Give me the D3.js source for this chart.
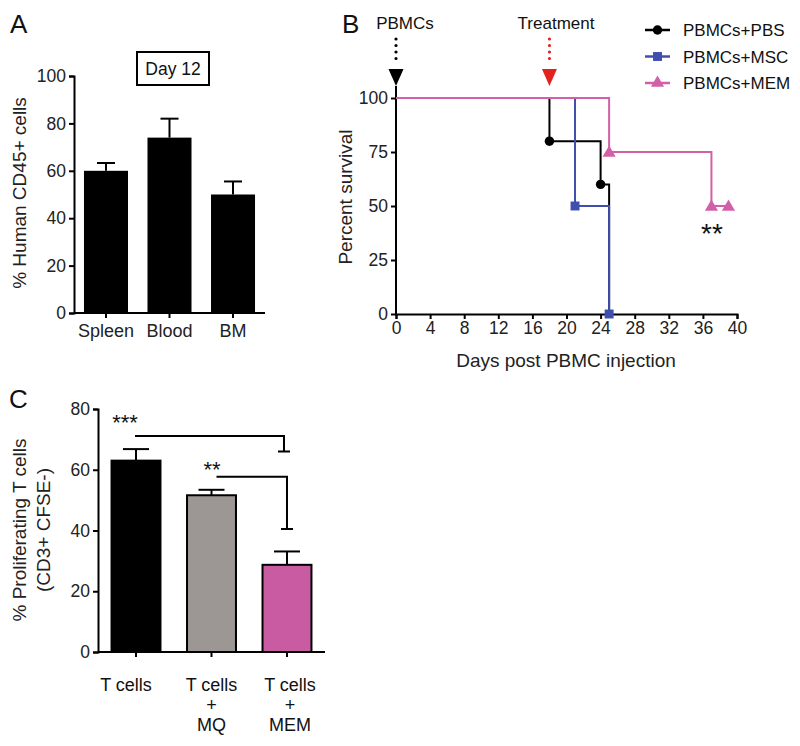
<!DOCTYPE html>
<html><head><meta charset="utf-8">
<script src="https://cdn.jsdelivr.net/npm/d3@7"></script>
<style>body{margin:0;background:#fff}svg{font-family:"Liberation Sans",Arial,sans-serif}</style>
</head><body><svg id="c" width="800" height="746"></svg>
<script>
// Panel A
const catsA = ["Spleen","Blood","BM"];
const valsA = [60,74,50];
const errA = [3.3,8,5.5];
const ticksA = [0,20,40,60,80,100];
// Panel B
const ticksBx = [0,4,8,12,16,20,24,28,32,36,40];
const ticksBy = [0,25,50,75,100];
const seriesB = ["PBMCs+PBS","PBMCs+MSC","PBMCs+MEM"];
const pbsDays = [0,18,24,25], pbsSurv = [100,80,60,0];
const mscDays = [0,21,25], mscSurv = [100,50,0];
const memDays = [0,25,37,39], memSurv = [100,75,50,50];
const pbsMarkDays = [18,24], pbsMarkSurv = [80,60];
const mscMarkDays = [21,25], mscMarkSurv = [50,0];
const memMarkDays = [25,37,39], memMarkSurv = [75,50,50];
const colorsB = ["#000000","#3f4fb0","#d260a8"];
// Panel C
const catsC = [["T cells"],["T cells","+","MQ"],["T cells","+","MEM"]];
const valsC = [63,51.6,28.7];
const errC = [3.8,1.8,4.4];
const colorsC = ["#000000","#9c9794","#c85ba1"];
const ticksC = [0,20,40,60,80];

const svg = d3.select("#c");
const F = 17.5;   // tick labels / legend
const FL = 19;    // axis titles
const FC = 18;    // category labels

// ---------- Panel A ----------
const xA = d3.scaleBand().domain(catsA).range([74,265]).paddingInner(0.307).paddingOuter(0.157);
const yA = d3.scaleLinear().domain([0,100]).range([313,76]);
const gA = svg.append("g");
gA.selectAll("rect.bar").data(valsA).join("rect")
  .attr("x",(d,i)=>xA(catsA[i])).attr("width",xA.bandwidth())
  .attr("y",d=>yA(d)).attr("height",d=>yA(0)-yA(d)).attr("fill","#000");
gA.selectAll("g.err").data(valsA).join("g").each(function(d,i){
  const cx = xA(catsA[i])+xA.bandwidth()/2, g=d3.select(this);
  g.append("line").attr("x1",cx).attr("x2",cx).attr("y1",yA(d)).attr("y2",yA(d+errA[i])).attr("stroke","#000").attr("stroke-width",2);
  g.append("line").attr("x1",cx-9).attr("x2",cx+9).attr("y1",yA(d+errA[i])).attr("y2",yA(d+errA[i])).attr("stroke","#000").attr("stroke-width",2);
});
const axA = gA.append("g").attr("transform","translate(74,0)").call(d3.axisLeft(yA).tickValues(ticksA).tickSize(5).tickPadding(3));
const axAx = gA.append("g").attr("transform","translate(0,313)").call(d3.axisBottom(xA).tickSize(5).tickPadding(6));
[axA,axAx].forEach(a=>{a.select(".domain").attr("stroke-width",2);a.selectAll(".tick line").attr("stroke-width",2);a.selectAll("text").attr("font-size",F).attr("fill","#222").attr("font-family","Liberation Sans, Arial");});
axAx.selectAll("text").attr("font-size",FC);
axAx.select(".domain").attr("d","M74,0H265");
svg.append("text").attr("transform","translate(26,193) rotate(-90)").attr("text-anchor","middle").attr("font-size",FL).attr("fill","#222").text("% Human CD45+ cells");
svg.append("rect").attr("x",137).attr("y",52).attr("width",72).attr("height",33).attr("fill","none").attr("stroke","#000").attr("stroke-width",2);
svg.append("text").attr("x",173).attr("y",75).attr("text-anchor","middle").attr("font-size",F).attr("fill","#111").text("Day 12");
svg.append("text").attr("x",10).attr("y",33).attr("font-size",26).attr("fill","#111").text("A");

// ---------- Panel B ----------
const xB = d3.scaleLinear().domain([0,40]).range([396,737]);
const yB = d3.scaleLinear().domain([0,100]).range([314,98]);
const gB = svg.append("g");
const axBy = gB.append("g").attr("transform","translate(396,0)").call(d3.axisLeft(yB).tickValues(ticksBy).tickSize(5).tickPadding(3));
const axBx = gB.append("g").attr("transform","translate(0,314)").call(d3.axisBottom(xB).tickValues(ticksBx).tickSize(5).tickPadding(3));
[axBy,axBx].forEach(a=>{a.select(".domain").attr("stroke-width",2);a.selectAll(".tick line").attr("stroke-width",2);a.selectAll("text").attr("font-size",F).attr("fill","#222").attr("font-family","Liberation Sans, Arial");});
axBy.select(".domain").attr("d","M0,314V86");
const stepLine = d3.line().x(d=>xB(d[0])).y(d=>yB(d[1])).curve(d3.curveStepAfter);
const curves = [[pbsDays,pbsSurv],[mscDays,mscSurv],[memDays,memSurv]];
curves.forEach((c,k)=>{
  gB.append("path").datum(c[0].map((d,i)=>[d,c[1][i]])).attr("d",stepLine).attr("fill","none").attr("stroke",colorsB[k]).attr("stroke-width",2);
});
const marks = [[pbsMarkDays,pbsMarkSurv],[mscMarkDays,mscMarkSurv],[memMarkDays,memMarkSurv]];
const symTypes = [d3.symbolCircle,d3.symbolSquare,d3.symbolTriangle];
const symSizes = [70,80,75];
marks.forEach((m,k)=>{
  gB.selectAll(null).data(m[0].map((d,i)=>[d,m[1][i]])).join("path")
    .attr("transform",d=>`translate(${xB(d[0])},${yB(d[1])+(k==2?1:0)})`)
    .attr("d",d3.symbol(symTypes[k],symSizes[k])).attr("fill",colorsB[k]);
});
// legend
seriesB.forEach((s,k)=>{
  const y = 30+k*26.5;
  svg.append("line").attr("x1",645).attr("x2",670).attr("y1",y).attr("y2",y).attr("stroke",colorsB[k]).attr("stroke-width",2.5);
  svg.append("path").attr("transform",`translate(657.5,${y})`).attr("d",d3.symbol(symTypes[k],symSizes[k])).attr("fill",colorsB[k]);
  svg.append("text").attr("x",683).attr("y",y+6).attr("font-size",17).attr("fill","#111").text(s);
});
// arrows
function arrow(day,color){
  const x = xB(day);
  svg.append("line").attr("x1",x).attr("x2",x).attr("y1",39).attr("y2",64).attr("stroke",color).attr("stroke-width",3.2).attr("stroke-linecap","round").attr("stroke-dasharray","0,6.5");
  svg.append("path").attr("d",`M${x-7.5},69L${x+7.5},69L${x},86Z`).attr("fill",color);
}
arrow(0,"#000");
arrow(18,"#e3211f");
svg.append("text").attr("x",405).attr("y",29).attr("text-anchor","middle").attr("font-size",17).attr("fill","#111").text("PBMCs");
svg.append("text").attr("x",556).attr("y",29).attr("text-anchor","middle").attr("font-size",17).attr("fill","#111").text("Treatment");
svg.append("text").attr("x",342).attr("y",33).attr("font-size",26).attr("fill","#111").text("B");
svg.append("text").attr("transform","translate(352,197) rotate(-90)").attr("text-anchor","middle").attr("font-size",FL).attr("fill","#222").text("Percent survival");
svg.append("text").attr("x",566).attr("y",367).attr("text-anchor","middle").attr("font-size",FL).attr("fill","#222").text("Days post PBMC injection");
svg.append("text").attr("x",712).attr("y",243).attr("text-anchor","middle").attr("font-size",28).attr("fill","#111").text("**");

// ---------- Panel C ----------
const idxC = [0,1,2];
const xC = d3.scaleBand().domain(idxC).range([98,325]).paddingInner(0.325).paddingOuter(0.166);
const yC = d3.scaleLinear().domain([0,80]).range([652,409]);
const gC = svg.append("g");
gC.selectAll("g.err").data(valsC).join("g").each(function(d,i){
  const cx = xC(i)+xC.bandwidth()/2, g=d3.select(this);
  g.append("line").attr("x1",cx).attr("x2",cx).attr("y1",yC(d)).attr("y2",yC(d+errC[i])).attr("stroke","#000").attr("stroke-width",2);
  g.append("line").attr("x1",cx-13).attr("x2",cx+13).attr("y1",yC(d+errC[i])).attr("y2",yC(d+errC[i])).attr("stroke","#000").attr("stroke-width",2);
});
gC.selectAll("rect.bar").data(valsC).join("rect")
  .attr("x",(d,i)=>xC(i)+1).attr("width",xC.bandwidth()-2)
  .attr("y",d=>yC(d)).attr("height",d=>yC(0)-yC(d)).attr("fill",(d,i)=>colorsC[i]).attr("stroke","#000").attr("stroke-width",2);
const axC = gC.append("g").attr("transform","translate(98,0)").call(d3.axisLeft(yC).tickValues(ticksC).tickSize(5).tickPadding(3));
const axCx = gC.append("g").attr("transform","translate(0,652)").call(d3.axisBottom(xC).tickSize(5).tickFormat(""));
[axC,axCx].forEach(a=>{a.select(".domain").attr("stroke-width",2);a.selectAll(".tick line").attr("stroke-width",2);a.selectAll("text").attr("font-size",F).attr("fill","#222").attr("font-family","Liberation Sans, Arial");});
axCx.select(".domain").attr("d","M98,0H325");
const labOff = [-10,0,3];
catsC.forEach((lines,i)=>{
  const cx = xC(i)+xC.bandwidth()/2+labOff[i];
  lines.forEach((t,j)=>{
    svg.append("text").attr("x",cx).attr("y",691+j*20).attr("text-anchor","middle").attr("font-size",FC).attr("fill","#111").text(t);
  });
});
svg.append("text").attr("transform","translate(26,530) rotate(-90)").attr("text-anchor","middle").attr("font-size",FL).attr("fill","#222").text("% Proliferating T cells");
svg.append("text").attr("transform","translate(50,530) rotate(-90)").attr("text-anchor","middle").attr("font-size",FL).attr("fill","#222").text("(CD3+ CFSE-)");
svg.append("text").attr("x",9).attr("y",408).attr("font-size",26).attr("fill","#111").text("C");
// significance brackets
function bracket(x1,yTop,x2,yBot){
  const p = `M${x1},${yC(yTop)}H${x2}V${yC(yBot)}M${x2-6},${yC(yBot)}H${x2+6}`;
  svg.append("path").attr("d",p).attr("fill","none").attr("stroke","#000").attr("stroke-width",2);
}
const cxC = i=>xC(i)+xC.bandwidth()/2;
bracket(cxC(0)-1,71.1,cxC(2)-3,66);
bracket(cxC(1)+5,57.7,cxC(2),40.5);
svg.append("text").attr("x",125).attr("y",430).attr("text-anchor","middle").attr("font-size",22).attr("fill","#111").text("***");
svg.append("text").attr("x",212).attr("y",477).attr("text-anchor","middle").attr("font-size",22).attr("fill","#111").text("**");
</script></body></html>
